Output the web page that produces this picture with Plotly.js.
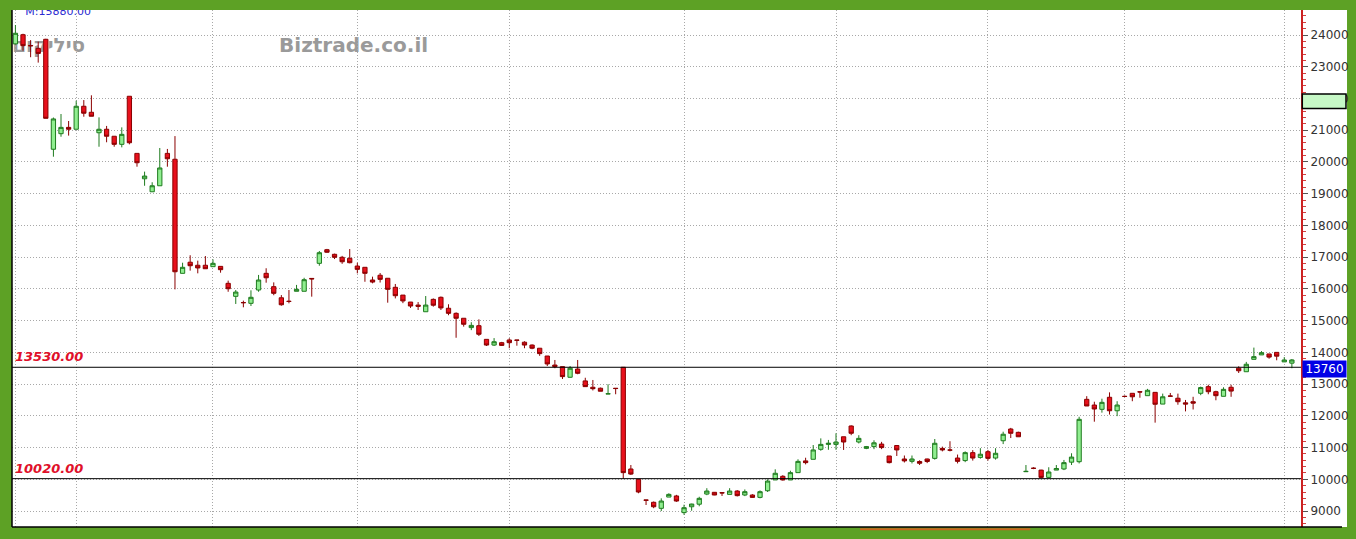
<!DOCTYPE html>
<html>
<head>
<meta charset="utf-8">
<script src="https://cdn.plot.ly/plotly-3.0.1.min.js"></script>
<style>html,body{margin:0;padding:0;background:#5da125;}#chart{width:1356px;height:539px;}</style>
</head>
<body>
<div id="chart"></div>
<script>
// OHLC values (one per trading session, oldest first)
const openVals = [23720,24010,23670,23580,23865,20400,20890,21090,21030,21755,21565,20920,21030,20810,20555,22070,20270,19470,19060,19250,
20270,20085,16490,16840,16745,16745,16700,16710,16175,15765,15570,15545,15965,16490,16070,15720,15610,15925,15925,16330,
16805,17235,17090,16995,16965,16720,16680,16280,16430,16335,16050,15805,15585,15490,15280,15670,15735,15390,15230,15075,
14780,14840,14410,14230,14305,14390,14390,14320,14230,14130,13885,13600,13550,13215,13475,13100,12900,12870,12690,12870,
13530,10325,10000,9350,9275,9085,9440,9475,8950,9135,9215,9535,9590,9580,9525,9630,9505,9505,9430,9640,
9980,10095,9980,10210,10580,10630,10945,11100,11100,11340,11680,11175,10975,11030,11110,10735,11065,10640,10565,10560,
10640,10660,10975,10925,10670,10590,10840,10690,10870,10670,11215,11585,11480,10240,10350,10290,10060,10290,10325,10540,
10555,12520,12340,12205,12585,12160,12615,12710,12760,12635,12740,12370,12625,12555,12410,12445,12710,12920,12760,12615,
12900,13500,13390,13780,13920,13950,14000,13700,13660];
const highVals = [24315,24040,23840,23790,23880,21400,21510,21290,21930,21950,22100,21405,21135,20810,21090,22070,20270,19695,19360,20440,
20410,20815,16825,17060,16890,17035,16930,16710,16260,15965,15630,15955,16440,16650,16205,15805,15965,16125,16350,16330,
17195,17260,17110,17040,17255,16825,16680,16385,16500,16335,16155,15805,15585,15585,15775,15700,15760,15515,15260,15075,
14950,15040,14410,14450,14330,14445,14390,14350,14250,14130,13885,13760,13550,13570,13760,13200,13130,12890,12995,12870,
13530,10450,10000,9350,9300,9400,9560,9510,9200,9230,9450,9720,9600,9580,9720,9660,9680,9530,9650,10000,
10315,10130,10270,10630,10680,11080,11290,11240,11450,11340,11700,11390,11050,11230,11180,10735,11065,10750,10750,10600,
10650,11270,11030,11200,10780,10880,10920,10980,10925,10980,11500,11620,11500,10450,10380,10300,10380,10450,10610,10820,
11970,12620,12445,12540,12740,12460,12640,12710,12760,12850,12740,12700,12720,12700,12500,12600,12920,12980,12790,12900,
12980,13560,13700,14150,14040,13950,14000,13850,13790];
const lowVals = [23700,23505,23300,23130,21375,20165,20795,20830,21030,21425,21440,20480,20620,20480,20460,20555,19850,19250,19060,19250,
19850,15985,16490,16575,16490,16635,16700,16510,15910,15525,15420,15460,15910,16195,15800,15470,15545,15925,15925,15755,
16730,17140,16940,16790,16805,16490,16225,16175,16200,15565,15700,15550,15400,15335,15280,15440,15335,15170,14460,14810,
14700,14515,14200,14200,14200,14130,14210,14130,14100,13890,13570,13500,13160,13200,13310,12920,12800,12775,12690,12680,
10020,10135,9560,9190,9090,9000,9440,9290,8880,9010,9150,9500,9500,9475,9525,9460,9470,9420,9400,9600,
9980,9960,9980,10210,10470,10630,10900,10930,10930,10925,11390,11130,10950,10950,10950,10500,10735,10530,10500,10450,
10510,10620,10880,10880,10500,10540,10590,10650,10590,10620,11110,11300,11340,10240,10320,10040,10060,10290,10290,10450,
10500,12310,11815,12100,12040,11990,12590,12460,12570,12635,11785,12370,12610,12350,12140,12200,12650,12680,12490,12615,
12600,13350,13390,13780,13920,13800,13750,13700,13500];
const closeVals = [24055,23665,23660,23420,21375,21355,21090,21030,21755,21535,21440,21030,20810,20555,20870,20605,19975,19555,19250,19810,
20100,16540,16680,16730,16660,16635,16805,16605,16005,15900,15565,15735,16280,16350,15860,15500,15605,15985,16290,16315,
17140,17155,16995,16855,16825,16615,16490,16215,16300,15985,15785,15620,15460,15450,15490,15485,15400,15230,15075,14885,
14850,14570,14230,14335,14220,14305,14380,14230,14130,13960,13635,13550,13235,13500,13340,12920,12855,12775,12695,12860,
10210,10165,9600,9340,9135,9315,9525,9315,9105,9220,9400,9630,9505,9570,9630,9485,9610,9430,9610,9945,
10190,9980,10210,10565,10525,10925,11100,11135,11175,11175,11450,11290,11030,11150,11000,10525,10925,10580,10640,10505,
10560,11135,10925,10920,10565,10840,10670,10790,10660,10820,11420,11450,11340,10250,10345,10060,10230,10340,10525,10700,
11890,12310,12215,12425,12160,12340,12610,12600,12750,12805,12365,12600,12620,12445,12370,12400,12890,12760,12635,12835,
12780,13420,13625,13865,13990,13850,13880,13760,13760];
// session index of each month's first bar (vertical grid lines)
const monthStarts = [0, 8, 26, 45, 65, 88, 108, 128, 146, 167];
// price-axis ticks
const priceTicks = [9000,10000,11000,12000,13000,14000,15000,16000,17000,18000,19000,20000,21000,22000,23000,24000];
// horizontal reference levels
const levelHigh = 13530;
const levelLow = 10020;
const lastPrice = 13760;
// band marked on the price scale
const bandTop = 22145;
const bandBottom = 21685;
const markerLabel = "M:15880.00";
const watermark = "Biztrade.co.il";
const stockName = "סיליקום";

const sessions = closeVals.map((_, i) => i);

const candles = {
  type: 'candlestick',
  x: sessions, open: openVals, high: highVals, low: lowVals, close: closeVals,
  increasing: {line: {color: '#1e7b1e', width: 1}, fillcolor: '#90ee90'},
  decreasing: {line: {color: '#8b0000', width: 1}, fillcolor: '#e8101c'},
  whiskerwidth: 0,
  hoverinfo: 'none',
  showlegend: false
};

const topLabel = {
  type: 'scatter', mode: 'text',
  x: [1.3], y: [24705], text: [markerLabel],
  textposition: 'middle right',
  textfont: {family: 'DejaVu Sans', size: 11, color: '#2a2ad0'},
  cliponaxis: true, hoverinfo: 'none', showlegend: false
};

const gridDash = '1px,2px';
const layout = {
  width: 1356, height: 539,
  margin: {l: 12, r: 55, t: 10, b: 12, pad: 0},
  paper_bgcolor: '#5da125',
  plot_bgcolor: '#ffffff',
  boxgap: 0.25, boxgroupgap: 0.25,
  showlegend: false,
  dragmode: false,
  xaxis: {
    range: [-0.45, 169.2],
    rangeslider: {visible: false},
    tickmode: 'array', tickvals: monthStarts, showticklabels: false, ticks: '',
    showgrid: true, gridcolor: '#a8a8a8', griddash: gridDash, gridwidth: 1,
    zeroline: false, showline: false, fixedrange: true
  },
  yaxis: {
    side: 'right',
    range: [8497, 24788],
    tickmode: 'array', tickvals: priceTicks, ticktext: priceTicks.map(String),
    showgrid: true, gridcolor: '#a8a8a8', griddash: gridDash, gridwidth: 1,
    zeroline: false,
    showline: true, linecolor: '#cc2222', linewidth: 2,
    ticks: 'outside', ticklen: 5, tickcolor: '#555', tickwidth: 1,
    minor: {dtick: 200, tick0: 0, ticks: 'outside', ticklen: 3, tickcolor: '#d04040', showgrid: false},
    tickfont: {family: 'DejaVu Sans', size: 12, color: '#333'},
    fixedrange: true
  },
  shapes: [
    {type: 'rect', xref: 'paper', yref: 'paper', x0: 0, x1: 1.0357, y0: 0, y1: 1,
     fillcolor: '#ffffff', line: {width: 0}, layer: 'below'},
    {type: 'rect', xref: 'paper', yref: 'paper', x0: 0.17, x1: 0.36, y0: 0.90, y1: 0.97,
     fillcolor: 'rgba(0,0,0,0)', line: {width: 0}, layer: 'below',
     label: {text: watermark, font: {family: 'DejaVu Sans', size: 20, weight: 'bold', color: '#9a9a9a'}, textposition: 'middle center'}},
    {type: 'rect', xref: 'paper', yref: 'paper', x0: 0.0, x1: 0.0614, y0: 0.90, y1: 0.97,
     fillcolor: 'rgba(0,0,0,0)', line: {width: 0}, layer: 'below',
     label: {text: stockName, font: {family: 'DejaVu Sans', size: 20, weight: 'bold', color: '#9a9a9a'}, textposition: 'middle right'}},
    {type: 'line', xref: 'paper', yref: 'paper', x0: 0, x1: 0, y0: 0, y1: 1, line: {color: '#000', width: 1.5}},
    {type: 'line', xref: 'paper', yref: 'paper', x0: 0, x1: 1.0318, y0: 0, y1: 0, line: {color: '#000', width: 1.5}},
    {type: 'line', xref: 'paper', yref: 'y', x0: 0, x1: 1, y0: levelHigh, y1: levelHigh, line: {color: '#000', width: 1}},
    {type: 'line', xref: 'paper', yref: 'y', x0: 0, x1: 1, y0: levelLow, y1: levelLow, line: {color: '#000', width: 1}},
    {type: 'rect', xref: 'paper', yref: 'y', x0: 1.001, x1: 1.0349, y0: bandBottom, y1: bandTop,
     fillcolor: '#c6f8c6', line: {color: '#000', width: 1.5}, layer: 'above'},
    {type: 'rect', xref: 'paper', yref: 'paper', x0: 0.658, x1: 0.79, y0: -0.0025, y1: -0.0065,
     fillcolor: '#c8641e', line: {width: 0}}
  ],
  annotations: [
    {xref: 'paper', yref: 'y', x: 0, y: levelHigh, xanchor: 'left', yanchor: 'bottom', xshift: 1, yshift: 1,
     text: levelHigh.toFixed(2), showarrow: false,
     font: {family: 'DejaVu Sans', size: 13, weight: 'bold', style: 'italic', color: '#e0102a'}},
    {xref: 'paper', yref: 'y', x: 0, y: levelLow, xanchor: 'left', yanchor: 'bottom', xshift: 1, yshift: 1,
     text: levelLow.toFixed(2), showarrow: false,
     font: {family: 'DejaVu Sans', size: 13, weight: 'bold', style: 'italic', color: '#e0102a'}},
    {xref: 'paper', yref: 'y', x: 1, y: lastPrice, xanchor: 'left', yanchor: 'top', xshift: 1,
     text: String(lastPrice), showarrow: false, bgcolor: '#0000e6', borderpad: 1, width: 41,
     font: {family: 'DejaVu Sans', size: 12, color: '#ffffff'}}
  ]
};

Plotly.newPlot('chart', [candles, topLabel], layout, {displayModeBar: false, staticPlot: true});
</script>
</body>
</html>
